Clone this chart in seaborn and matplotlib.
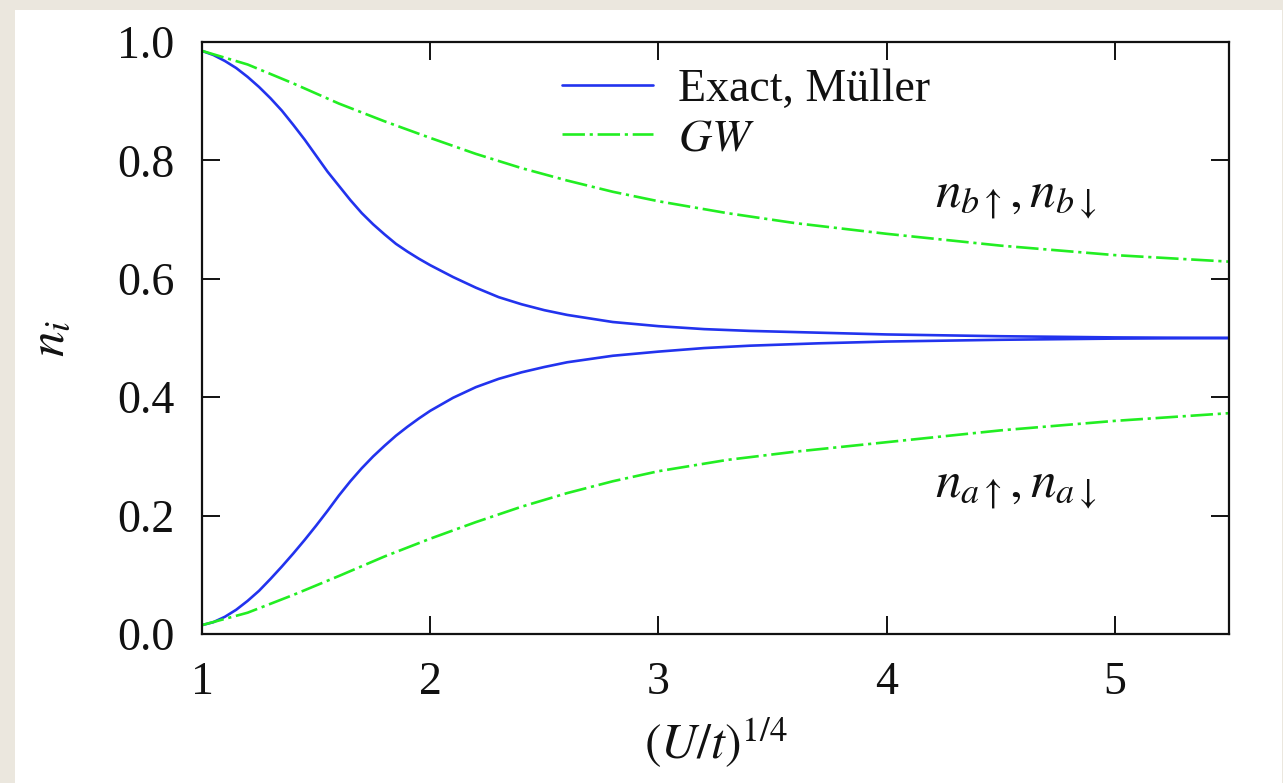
import numpy as np
import pandas as pd
import matplotlib
matplotlib.use("Agg")
import matplotlib.pyplot as plt
import seaborn as sns
from matplotlib.patches import Rectangle

# ---- data ----
x_exact = [1.00, 1.05, 1.10, 1.15, 1.20, 1.25, 1.30, 1.35, 1.40, 1.45, 1.50, 1.55,
           1.60, 1.65, 1.70, 1.75, 1.80, 1.85, 1.90, 1.95, 2.00, 2.10, 2.20, 2.30,
           2.40, 2.50, 2.60, 2.80, 3.00, 3.20, 3.40, 3.70, 4.00, 4.50, 5.00, 5.50]
exact_b = [0.985, 0.978, 0.968, 0.956, 0.941, 0.924, 0.905, 0.884, 0.860, 0.835,
           0.808, 0.781, 0.757, 0.733, 0.711, 0.692, 0.675, 0.659, 0.646, 0.634,
           0.623, 0.603, 0.585, 0.569, 0.557, 0.547, 0.539, 0.527, 0.520, 0.515,
           0.512, 0.509, 0.506, 0.503, 0.501, 0.500]
exact_a = [0.015, 0.020, 0.029, 0.041, 0.056, 0.073, 0.093, 0.114, 0.136, 0.159,
           0.183, 0.208, 0.234, 0.258, 0.280, 0.300, 0.318, 0.335, 0.350, 0.364,
           0.377, 0.399, 0.417, 0.431, 0.442, 0.451, 0.459, 0.470, 0.477, 0.483,
           0.487, 0.491, 0.494, 0.497, 0.499, 0.500]

x_gw = [1.0, 1.2, 1.4, 1.6, 1.8, 2.0, 2.2, 2.4, 2.6, 2.8, 3.0, 3.3, 3.6, 4.0,
        4.5, 5.0, 5.5]
gw_b = [0.985, 0.962, 0.930, 0.896, 0.866, 0.838, 0.811, 0.787, 0.766, 0.747,
        0.731, 0.711, 0.694, 0.676, 0.656, 0.640, 0.629]
gw_a = [0.015, 0.036, 0.066, 0.098, 0.131, 0.161, 0.189, 0.215, 0.238, 0.258,
        0.275, 0.294, 0.308, 0.324, 0.344, 0.360, 0.373]

x_ticks = [1, 2, 3, 4, 5]
y_ticks = [0.0, 0.2, 0.4, 0.6, 0.8, 1.0]
legend_labels = ["Exact, Müller", "$GW$"]
label_b = r"$n_{b\uparrow}, n_{b\downarrow}$"
label_a = r"$n_{a\uparrow}, n_{a\downarrow}$"

# ---- style ----
sns.set_theme(style="ticks")
plt.rcParams["font.family"] = ["Liberation Serif", "DejaVu Serif"]
plt.rcParams["mathtext.fontset"] = "stix"

BLUE = "#2233ee"
GREEN = "#22ee22"
INK = "#111111"
FS = 33

fig = plt.figure(figsize=(12.83, 7.83), dpi=100, facecolor="#ebe7de")
bg = Rectangle((15 / 1283, 0), (1282 - 15) / 1283, (783 - 10) / 783,
               transform=fig.transFigure, facecolor="white", edgecolor="none",
               zorder=-10)
fig.add_artist(bg)
ax = fig.add_axes([202 / 1283, (783 - 634) / 783, (1229 - 202) / 1283, (634 - 42) / 783])
ax.set_zorder(1)
ax.set_facecolor("white")

df_exact = pd.DataFrame({"x": x_exact, "b": exact_b, "a": exact_a})
df_gw = pd.DataFrame({"x": x_gw, "b": gw_b, "a": gw_a})

sns.lineplot(data=df_exact, x="x", y="b", ax=ax, color=BLUE, linewidth=1.9)
sns.lineplot(data=df_exact, x="x", y="a", ax=ax, color=BLUE, linewidth=1.9)
sns.lineplot(data=df_gw, x="x", y="b", ax=ax, color=GREEN, linewidth=1.9)
sns.lineplot(data=df_gw, x="x", y="a", ax=ax, color=GREEN, linewidth=1.9)
dash = (0, (8.5, 1.8, 1.2, 1.8))
ax.lines[2].set_linestyle(dash)
ax.lines[3].set_linestyle(dash)
for ln in ax.lines:
    ln.set_solid_joinstyle("round")

ax.set_xlim(1, 5.5)
ax.set_ylim(0, 1.0)
ax.set_xticks(x_ticks)
ax.set_xticklabels([str(t) for t in x_ticks])
ax.set_yticks(y_ticks)
ax.set_yticklabels([f"{t:.1f}" for t in y_ticks])
ax.tick_params(axis="both", which="major", direction="in", length=13, width=1.4,
               labelsize=FS, colors=INK, top=True, right=True)
ax.tick_params(axis="x", pad=20)
ax.tick_params(axis="y", pad=20)
for s in ax.spines.values():
    s.set_visible(True)
    s.set_linewidth(1.6)
    s.set_color(INK)

ax.set_xlabel(r"$(U/t)^{1/4}$", fontsize=36, color=INK, labelpad=8)
ax.set_ylabel(r"$n_i$", fontsize=37, color=INK, labelpad=30)

ax.text(4.21, 0.735, label_b, fontsize=37, color=INK, ha="left", va="center")
ax.text(4.21, 0.245, label_a, fontsize=37, color=INK, ha="left", va="center")

leg = ax.legend(handles=[ax.lines[0], ax.lines[2]], labels=legend_labels,
                loc="upper left", bbox_to_anchor=(0.31, 1.025), frameon=False,
                fontsize=FS, handlelength=2.0, handletextpad=0.55, labelspacing=0.15)
for t in leg.get_texts():
    t.set_color(INK)

fig.savefig("out.png", dpi=100, facecolor=fig.get_facecolor())
